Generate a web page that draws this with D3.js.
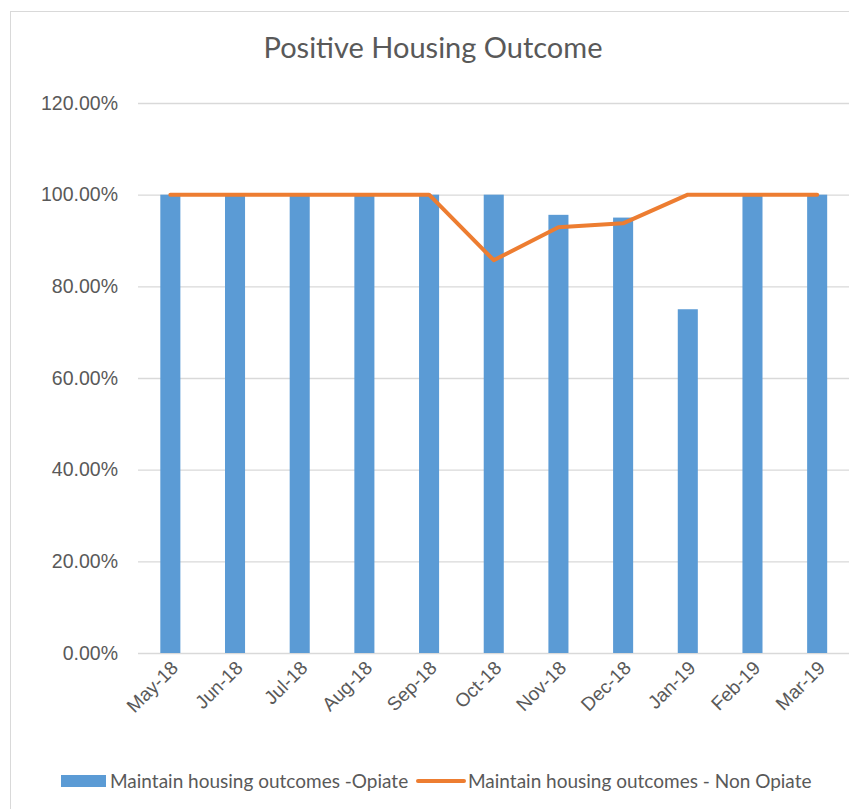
<!DOCTYPE html>
<html>
<head>
<meta charset="utf-8">
<script src="https://cdn.jsdelivr.net/npm/d3@7"></script>
<style>
  body { margin: 0; background: #fff; }
  svg { display: block; font-family: Lato, "Open Sans", sans-serif; }
</style>
</head>
<body>
<div id="chart"></div>
<script>
// categories and series
const months = ["May-18", "Jun-18", "Jul-18", "Aug-18", "Sep-18", "Oct-18",
                "Nov-18", "Dec-18", "Jan-19", "Feb-19", "Mar-19"];
const opiate = [1, 1, 1, 1, 1, 1, 0.956, 0.95, 0.75, 1, 1];
const nonOpiate = [1, 1, 1, 1, 1, 0.857, 0.929, 0.9375, 1, 1, 1];
const yTicks = [0, 0.2, 0.4, 0.6, 0.8, 1.0, 1.2];

const seriesNames = ["Maintain housing outcomes -Opiate", "Maintain housing outcomes - Non Opiate"];
const blue = "#5b9bd5", orange = "#ed7d31", textCol = "#595959";

const W = 849, H = 809;
const plot = { left: 138, right: 849.5, top: 103, bottom: 653 };

const svg = d3.select("#chart").append("svg")
    .attr("width", W)
    .attr("height", H);

// chart frame
svg.append("rect")
    .attr("x", 10.5).attr("y", 11.5)
    .attr("width", W).attr("height", H)
    .attr("fill", "#fff")
    .attr("stroke", "#d9d9d9");

svg.append("text")
    .attr("x", 433).attr("y", 58)
    .attr("text-anchor", "middle")
    .attr("fill", textCol)
    .style("font-size", "29px")
    .text("Positive Housing Outcome");

const x = d3.scaleBand()
    .domain(months)
    .range([plot.left, plot.right])
    .paddingInner(0.69)
    .paddingOuter(0.345);

const y = d3.scaleLinear()
    .domain([0, 1.2])
    .range([plot.bottom, plot.top]);

// gridlines + y labels
const yAxis = svg.append("g")
    .attr("transform", `translate(${plot.left},0)`)
    .call(d3.axisLeft(y)
        .tickValues(yTicks)
        .tickSize(-(plot.right - plot.left))
        .tickPadding(20)
        .tickFormat(d => (d * 100).toFixed(2) + "%"));
yAxis.select(".domain").remove();
yAxis.selectAll(".tick line").attr("stroke", "#d9d9d9").attr("stroke-width", 1.3);
yAxis.selectAll(".tick text")
    .attr("fill", textCol)
    .style("font-size", "19.5px");

// bars
svg.append("g").selectAll("rect")
    .data(opiate)
    .join("rect")
    .attr("x", (d, i) => x(months[i]))
    .attr("y", d => y(d))
    .attr("width", x.bandwidth())
    .attr("height", d => y(0) - y(d))
    .attr("fill", blue);

// line
const line = d3.line()
    .x((d, i) => x(months[i]) + x.bandwidth() / 2)
    .y(d => y(d));

svg.append("path")
    .datum(nonOpiate)
    .attr("d", line)
    .attr("fill", "none")
    .attr("stroke", orange)
    .attr("stroke-width", 4)
    .attr("stroke-linejoin", "round")
    .attr("stroke-linecap", "round");

// x labels
const xAxis = svg.append("g")
    .attr("transform", `translate(0,${plot.bottom})`)
    .call(d3.axisBottom(x).tickSize(0).tickPadding(0));
xAxis.select(".domain").remove();
xAxis.selectAll(".tick text")
    .attr("fill", textCol)
    .style("font-size", "19px")
    .attr("text-anchor", "end")
    .attr("dy", null)
    .attr("transform", "translate(9,16) rotate(-45)");

// legend
const leg = svg.append("g");
leg.append("rect")
    .attr("x", 61).attr("y", 775)
    .attr("width", 45).attr("height", 12)
    .attr("fill", blue);
leg.append("text")
    .attr("x", 110).attr("y", 788)
    .attr("fill", textCol)
    .style("font-size", "19px")
    .text(seriesNames[0]);
leg.append("line")
    .attr("x1", 418).attr("x2", 464)
    .attr("y1", 781).attr("y2", 781)
    .attr("stroke", orange)
    .attr("stroke-width", 4)
    .attr("stroke-linecap", "round");
leg.append("text")
    .attr("x", 468).attr("y", 788)
    .attr("fill", textCol)
    .style("font-size", "19px")
    .text(seriesNames[1]);
</script>
</body>
</html>
